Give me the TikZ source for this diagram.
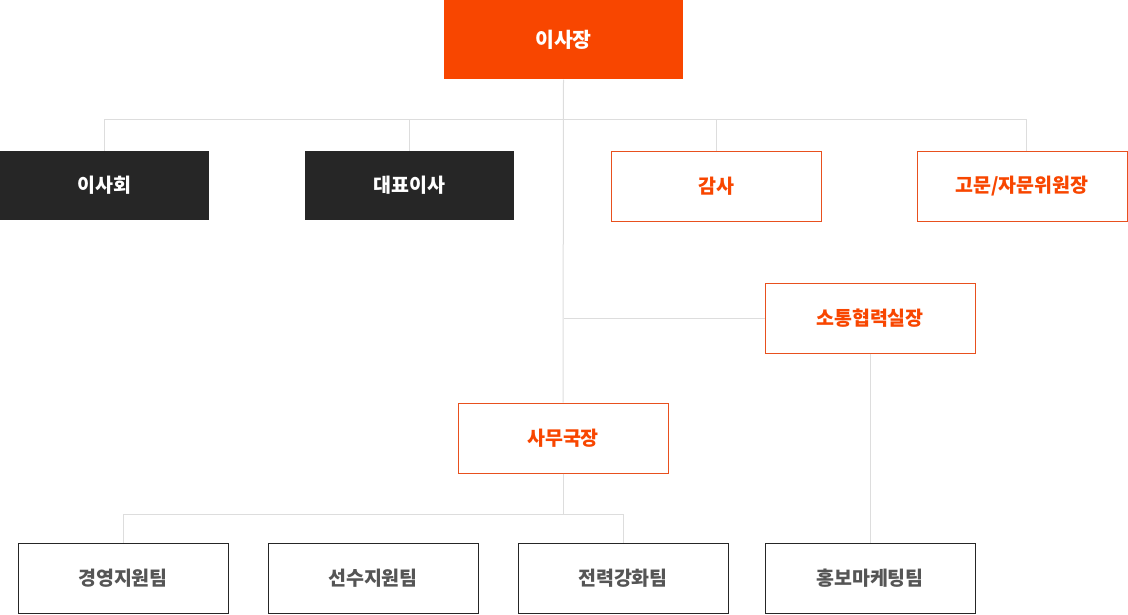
\documentclass[tikz,border=0pt]{standalone}
\usepackage{fontspec}
\setmainfont{Noto Sans CJK KR}
\usepackage{xcolor}
\definecolor{orgorange}{HTML}{F84600}
\definecolor{orgline}{HTML}{E8501E}
\definecolor{orgdark}{HTML}{262626}
\definecolor{orggray}{HTML}{DDDDDD}
\definecolor{orgtext}{HTML}{555555}
\usetikzlibrary{positioning, calc}

\begin{document}
\begin{tikzpicture}[
  x=1pt, y=-1pt,
  box/.style={minimum width=210pt, minimum height=70pt, inner sep=0pt,
    font=\fontsize{19.5}{22}\selectfont\bfseries, line width=1pt},
  head/.style={box, fill=orgorange, text=white, minimum width=239pt,
    minimum height=79pt, font=\fontsize{20.5}{23}\selectfont\bfseries},
  darkbox/.style={box, fill=orgdark, text=white, minimum width=209pt,
    minimum height=69pt},
  orgbox/.style={box, draw=orgline, fill=white, text=orgorange},
  teambox/.style={box, draw=orgdark, fill=white, text=orgtext},
  link/.style={draw=orggray, line width=1pt}
]
  \useasboundingbox (0,0) rectangle (1128,614);

  % Top
  \node[head] (chair) at (563.5,39.5) {이사장};

  % Second row
  \node[darkbox] (board) at (104.5,185.5) {이사회};
  \node[darkbox] (ceo) at (409.5,185.5) {대표이사};
  \node[orgbox] (audit) at (716,186) {감사};
  \node[orgbox] (advisor) at (1022,186) {고문/자문위원장};

  % Middle
  \node[orgbox] (comm) at (870,318) {소통협력실장};
  \node[orgbox] (office) at (563,438) {사무국장};

  % Teams
  \foreach \i/\x/\t in {1/123/경영지원팀, 2/373/선수지원팀, 3/623/전력강화팀, 4/870/홍보마케팅팀} {
    \node[teambox] (team\i) at (\x,578) {\t};
  }

  % Connectors
  \coordinate (split) at ($(chair.south)+(0,40)$);
  \coordinate (advtop) at ($(advisor.north)+(4,0)$);
  \draw[link] (chair.south) -- (office.north);
  \draw[link] (board.north) |- (split) -| (advtop);
  \draw[link] (ceo.north) -- (ceo.north |- split);
  \draw[link] (audit.north) -- (audit.north |- split);
  \draw[link] (comm.west) -- (comm.west -| chair.south);
  \draw[link] (comm.south) -- (team4.north);
  \coordinate (split2) at ($(office.south)+(0,41)$);
  \draw[link] (office.south) -- (split2);
  \draw[link] (team1.north) |- (split2) -| (team3.north);
\end{tikzpicture}
\end{document}
